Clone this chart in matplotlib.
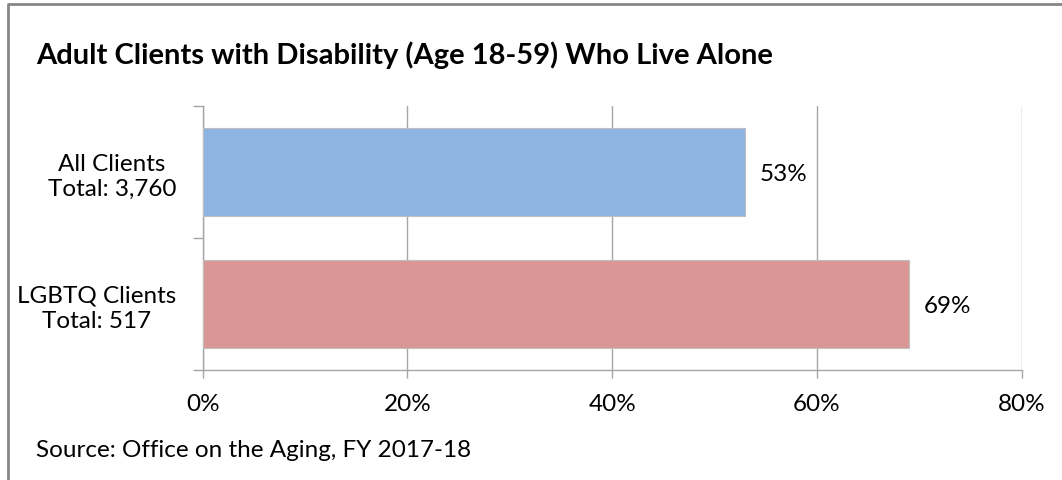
import matplotlib.pyplot as plt
from matplotlib.lines import Line2D

# Share of adult clients with disability (18-59) who live alone
groups = ['All Clients', 'LGBTQ Clients']
totals = ['3,760', '517']
shares = [53, 69]
bar_colors = ['#8EB4E3', '#D99694']
x_ticks = [0, 20, 40, 60, 80]

grid_grey = '#A6A6A6'
fs = 17.5
plt.rcParams['font.family'] = ['Lato', 'DejaVu Sans']

fig = plt.figure(figsize=(10.62, 4.81), dpi=100)
ax = fig.add_axes([0.1908, 0.2293, 0.7712, 0.5489])

y = list(range(len(groups)))
bars = ax.barh(y, shares, height=0.667, color=bar_colors,
               edgecolor='#BFBFBF', linewidth=0.8, zorder=3)

for bar, v in zip(bars, shares):
    ax.text(bar.get_width() + 1.4, bar.get_y() + bar.get_height() / 2,
            f'{v}%', va='center_baseline', ha='left', fontsize=fs)

ax.set_xlim(0, 80)
ax.set_ylim(len(groups) - 0.5, -0.5)
ax.set_xticks(x_ticks)
ax.set_xticklabels([f'{t}%' for t in x_ticks], fontsize=fs)
ax.xaxis.grid(True, color=grid_grey, linewidth=1.0, zorder=0)
ax.tick_params(axis='x', length=6, color=grid_grey, width=1.0, pad=11)

ax.set_yticks(y)
ax.set_yticklabels([f'{g}\nTotal: {t}' for g, t in zip(groups, totals)],
                   fontsize=fs, multialignment='center', linespacing=1.25)
ax.tick_params(axis='y', which='major', length=0, pad=19)
ax.set_yticks([-0.5, 0.5, 1.5], minor=True)
ax.tick_params(axis='y', which='minor', length=7, color=grid_grey, width=1.0)

for side in ['top', 'right']:
    ax.spines[side].set_visible(False)
for side in ['left', 'bottom']:
    ax.spines[side].set_color(grid_grey)
    ax.spines[side].set_linewidth(1.0)

fig.text(0.034, 0.885, 'Adult Clients with Disability (Age 18-59) Who Live Alone',
         fontsize=21, fontweight='bold', va='center', ha='left')
fig.text(0.034, 0.064, 'Source: Office on the Aging, FY 2017-18',
         fontsize=fs, va='center', ha='left')

# outer chart frame (top and left edges show)
fig.add_artist(Line2D([0.0075, 0.0075, 1.0], [0.0, 0.989, 0.989],
                      transform=fig.transFigure, color='#868686', linewidth=2))

fig.savefig('out.png', dpi=100)
